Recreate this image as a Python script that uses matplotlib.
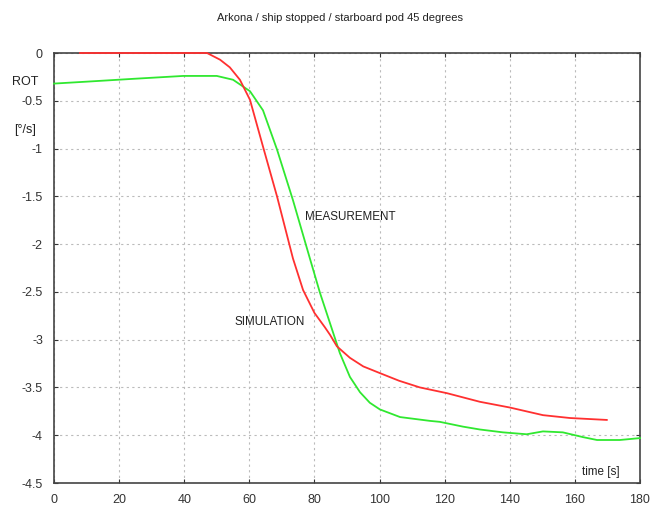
import matplotlib
matplotlib.use("Agg")
import matplotlib.pyplot as plt

# Simulation (red)
sim_t = [8, 20, 30, 40, 47, 51, 54, 57.1, 60.2, 64.2, 68.5, 73.4, 76.5, 80, 83.2, 84.8,
         86.9, 90.9, 95, 100.1, 106, 112.4, 120.7, 130.8, 140, 150.2, 158.5, 169.8]
sim_v = [0, 0, 0, 0, 0, -0.07, -0.15, -0.28, -0.49, -0.98, -1.5, -2.15, -2.48, -2.72, -2.87, -2.95,
         -3.07, -3.19, -3.28, -3.35, -3.43, -3.5, -3.56, -3.65, -3.71, -3.79, -3.82, -3.84]

# Measurement (green)
mea_t = [0, 10, 24.5, 39.7, 50, 55, 60.2, 64.2, 68.5, 73.4, 78.6, 81.7, 84.8, 87.8, 90.9,
         94, 97, 100.1, 106.3, 115.5, 118.5, 125.6, 130.8, 137.9, 145.2, 150.2, 156.3,
         162.5, 166.8, 173.8, 180]
mea_v = [-0.32, -0.3, -0.27, -0.24, -0.24, -0.28, -0.4, -0.6, -1.01, -1.54, -2.15, -2.51, -2.83,
         -3.14, -3.39, -3.55, -3.66, -3.73, -3.81, -3.85, -3.86, -3.91, -3.94, -3.97, -3.99,
         -3.96, -3.97, -4.02, -4.05, -4.05, -4.03]

xticks = [0, 20, 40, 60, 80, 100, 120, 140, 160, 180]
yticks = [0, -0.5, -1, -1.5, -2, -2.5, -3, -3.5, -4, -4.5]
yticklabels = ["0", "-0.5", "-1", "-1.5", "-2", "-2.5", "-3", "-3.5", "-4", "-4.5"]

plt.rcParams['font.family'] = ['Liberation Sans', 'DejaVu Sans']

fig = plt.figure(figsize=(6.59, 5.14), dpi=100)
ax = fig.add_axes([54/659, 1-483/514, (640-54)/659, (483-53)/514])

ax.plot(sim_t, sim_v, color="#ff3030", lw=1.3, clip_on=False, zorder=5)
ax.plot(mea_t, mea_v, color="#30e830", lw=1.3, clip_on=False, zorder=4)

ax.set_xlim(0, 180)
ax.set_ylim(-4.5, 0)
ax.set_xticks(xticks)
ax.set_yticks(yticks)
ax.set_yticklabels(yticklabels)
ax.grid(True, color="#bbbbbb", linestyle=(0, (2, 3)), lw=0.8)
ax.tick_params(direction="in", length=3, labelsize=9, colors="#333333", pad=8,
               right=True, top=True)
for s in ax.spines.values():
    s.set_color("#444444")
    s.set_linewidth(1.2)
    s.set_zorder(3)

fig.text(340/659, 1-18/514, "Arkona / ship stopped / starboard pod 45 degrees",
         ha="center", va="center", fontsize=8, color="#222222")
fig.text(25/659, 1-82/514, "ROT", ha="center", va="center", fontsize=9, color="#222222")
fig.text(25/659, 1-130/514, "[°/s]", ha="center", va="center", fontsize=9, color="#222222")
ax.text(90.9, -1.72, "MEASUREMENT", ha="center", va="center", fontsize=8.4, color="#222222")
ax.text(66.3, -2.82, "SIMULATION", ha="center", va="center", fontsize=8.4, color="#222222")
ax.text(168, -4.39, "time [s]", ha="center", va="center", fontsize=8.4, color="#222222")

fig.savefig("out.png", dpi=100)
